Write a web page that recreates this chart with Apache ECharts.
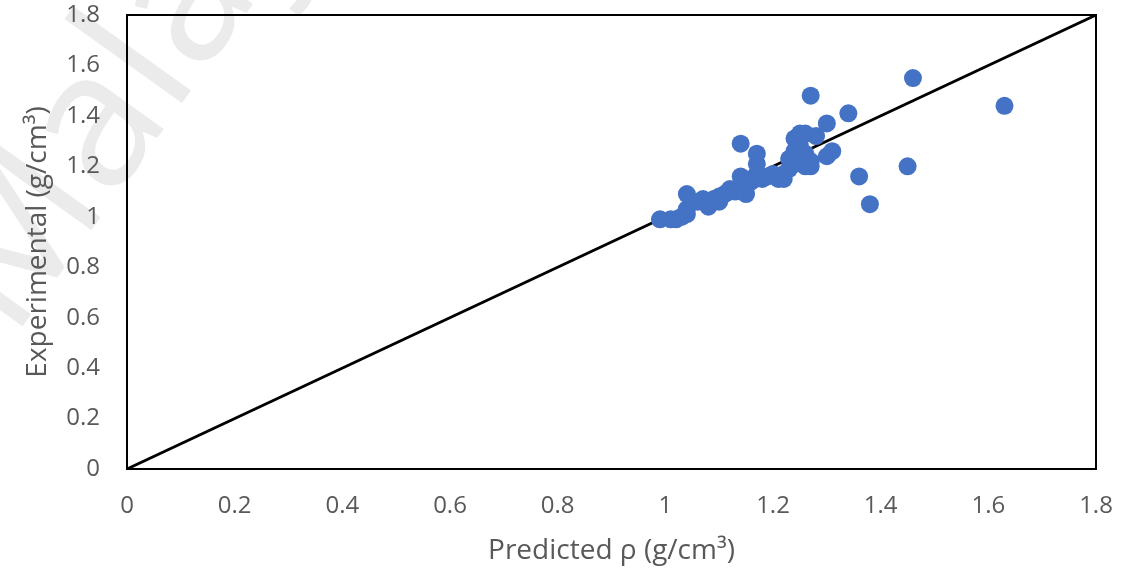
<!DOCTYPE html>
<html>
<head>
<meta charset="utf-8">
<script src="https://cdn.jsdelivr.net/npm/echarts@6/dist/echarts.min.js"></script>
<style>
html,body{margin:0;padding:0;background:#fff;}
#chart{width:1137px;height:574px;}
</style>
</head>
<body>
<div id="chart"></div>
<script>
// Predicted density (x) and experimental density (y), g/cm3
var predicted = [0.99,1.01,1.02,1.03,1.04,1.04,1.04,1.05,1.06,1.07,1.08,1.08,1.09,1.10,1.10,1.11,1.12,1.12,1.13,1.14,1.14,1.14,1.15,1.15,1.16,1.16,1.17,1.17,1.17,1.18,1.19,1.20,1.21,1.22,1.22,1.23,1.23,1.24,1.24,1.24,1.25,1.25,1.25,1.26,1.26,1.26,1.27,1.27,1.27,1.28,1.30,1.30,1.31,1.34,1.36,1.38,1.45,1.46,1.63];
var experimental = [0.99,0.99,0.99,1.00,1.01,1.03,1.09,1.06,1.06,1.07,1.04,1.06,1.07,1.06,1.08,1.09,1.10,1.11,1.10,1.12,1.16,1.29,1.09,1.13,1.15,1.14,1.17,1.21,1.25,1.15,1.16,1.17,1.15,1.15,1.17,1.19,1.23,1.21,1.26,1.31,1.33,1.22,1.28,1.25,1.33,1.20,1.20,1.22,1.48,1.32,1.37,1.24,1.26,1.41,1.16,1.05,1.20,1.55,1.44];
var parityLineX = [0, 1.8];
var parityLineY = [0, 1.8];
var xTitle = 'Predicted \u03C1 (g/cm\u00B3)';
var yTitle = 'Experimental (g/cm\u00B3)';
var watermark = 'Malaya';

var points = predicted.map(function(v, i){ return [v, experimental[i]]; });
var linePts = parityLineX.map(function(v, i){ return [v, parityLineY[i]]; });

var chart = echarts.init(document.getElementById('chart'), null, {renderer:'canvas'});
chart.setOption({
  animation: false,
  backgroundColor: '#ffffff',
  graphic: [{
    type: 'text',
    z: -10,
    x: 45, y: 365,
    rotation: 0.95,
    style: {
      text: watermark,
      fill: '#ebebeb',
      font: '190px "Open Sans"',
      textVerticalAlign: 'bottom'
    },
    silent: true
  }],
  grid: {
    left: 127, right: 41, top: 15, bottom: 105,
    show: true, borderColor: '#000', borderWidth: 2,
    backgroundColor: 'transparent'
  },
  xAxis: {
    type: 'value', min: 0, max: 1.8, interval: 0.2,
    name: xTitle, nameLocation: 'middle', nameGap: 68,
    nameTextStyle: {color:'#595959', fontSize: 28, fontFamily: 'Open Sans'},
    axisLine: {show: true, lineStyle: {color:'#000', width: 2}},
    axisTick: {show: false},
    splitLine: {show: false},
    axisLabel: {color:'#595959', fontSize: 24, fontFamily: 'Open Sans', margin: 25}
  },
  yAxis: {
    type: 'value', min: 0, max: 1.8, interval: 0.2,
    name: yTitle, nameLocation: 'middle', nameGap: 75, nameRotate: 90,
    nameTextStyle: {color:'#595959', fontSize: 28, fontFamily: 'Open Sans'},
    axisLine: {show: true, lineStyle: {color:'#000', width: 2}},
    axisTick: {show: false},
    splitLine: {show: false},
    axisLabel: {color:'#595959', fontSize: 24, fontFamily: 'Open Sans', margin: 27}
  },
  series: [{
    type: 'line',
    data: linePts,
    symbol: 'none',
    lineStyle: {color:'#000', width: 3},
    z: 1
  },{
    type: 'scatter',
    data: points,
    symbol: 'circle',
    symbolSize: 18,
    itemStyle: {color:'#4472C4', opacity: 1},
    z: 3
  }]
});
</script>
</body>
</html>
